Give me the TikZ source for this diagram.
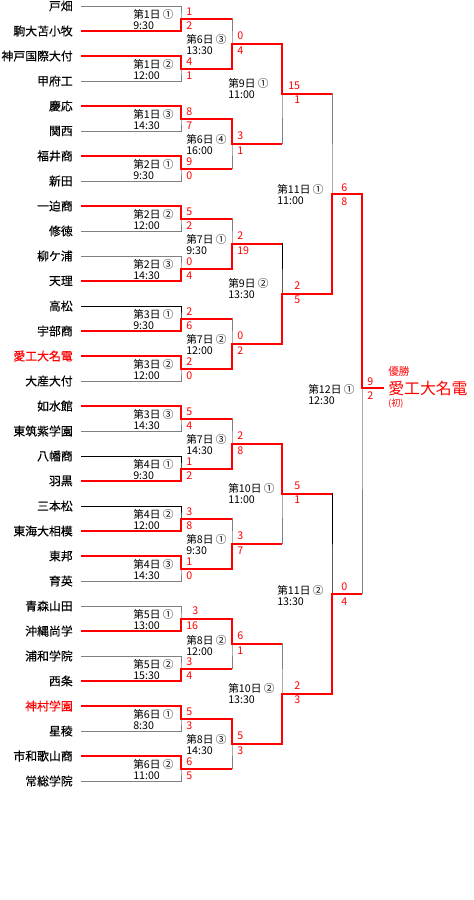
\documentclass[tikz,border=0pt]{standalone}
\usepackage{fontspec}
\setmainfont{Noto Sans CJK JP}
\newfontfamily\teamfont{Noto Sans CJK JP}[FakeBold=0.35]
\usepackage{xcolor}

\definecolor{wonred}{HTML}{FF0000}
\definecolor{lostgray}{HTML}{808080}

\tikzset{
    team/.style={anchor=east, inner sep=0pt, font=\teamfont\fontsize{8.9}{10}\selectfont},
    match/.style={anchor=west, inner sep=0pt, align=left, font=\fontsize{8}{8.3}\selectfont},
    score/.style={anchor=west, inner sep=0pt, text=wonred, font=\fontsize{8}{9}\selectfont},
    lost/.style={draw=lostgray, line width=0.75pt},
    lostdark/.style={draw=black, line width=0.75pt},
    won/.style={draw=wonred, line width=1.5pt}
}

\begin{document}
\begin{tikzpicture}[x=0.75pt, y=-0.75pt]
        \useasboundingbox (0,0) rectangle (474,900);

        % Define points for team lines
        \coordinate (t1) at (81, 6);
        \coordinate (t2) at (81, 31);
        \coordinate (t3) at (81, 56);
        \coordinate (t4) at (81, 81);
        \coordinate (t5) at (81, 106);
        \coordinate (t6) at (81, 131);
        \coordinate (t7) at (81, 156);
        \coordinate (t8) at (81, 181);
        \coordinate (t9) at (81, 206);
        \coordinate (t10) at (81, 231);
        \coordinate (t11) at (81, 256);
        \coordinate (t12) at (81, 281);
        \coordinate (t13) at (81, 306);
        \coordinate (t14) at (81, 331);
        \coordinate (t15) at (81, 356);
        \coordinate (t16) at (81, 381);
        \coordinate (t17) at (81, 406);
        \coordinate (t18) at (81, 431);
        \coordinate (t19) at (81, 456);
        \coordinate (t20) at (81, 481);
        \coordinate (t21) at (81, 506);
        \coordinate (t22) at (81, 531);
        \coordinate (t23) at (81, 556);
        \coordinate (t24) at (81, 581);
        \coordinate (t25) at (81, 606);
        \coordinate (t26) at (81, 631);
        \coordinate (t27) at (81, 656);
        \coordinate (t28) at (81, 681);
        \coordinate (t29) at (81, 706);
        \coordinate (t30) at (81, 731);
        \coordinate (t31) at (81, 756);
        \coordinate (t32) at (81, 781);

        % Define points where the first round meets
        \coordinate (a1) at (181, 18.5);
        \coordinate (a2) at (181, 68.5);
        \coordinate (a3) at (181, 118.5);
        \coordinate (a4) at (181, 168.5);
        \coordinate (a5) at (181, 218.5);
        \coordinate (a6) at (181, 268.5);
        \coordinate (a7) at (181, 318.5);
        \coordinate (a8) at (181, 368.5);
        \coordinate (a9) at (181, 418.5);
        \coordinate (a10) at (181, 468.5);
        \coordinate (a11) at (181, 518.5);
        \coordinate (a12) at (181, 568.5);
        \coordinate (a13) at (181, 618.5);
        \coordinate (a14) at (181, 668.5);
        \coordinate (a15) at (181, 718.5);
        \coordinate (a16) at (181, 768.5);

        % Define points for later rounds
        \coordinate (b1) at (232, 43.5);
        \coordinate (b2) at (232, 143.5);
        \coordinate (b3) at (232, 243.5);
        \coordinate (b4) at (232, 343.5);
        \coordinate (b5) at (232, 443.5);
        \coordinate (b6) at (232, 543.5);
        \coordinate (b7) at (232, 643.5);
        \coordinate (b8) at (232, 743.5);
        \coordinate (c1) at (282, 93.5);
        \coordinate (c2) at (282, 293.5);
        \coordinate (c3) at (282, 493.5);
        \coordinate (c4) at (282, 693.5);
        \coordinate (d1) at (332, 193.5);
        \coordinate (d2) at (332, 593.5);
        \coordinate (f) at (362, 388);
        \coordinate (w) at (384, 388);

        % Draw bracket lines
        \draw[lost] (t1) -| (a1) |- (t2);
        \draw[lost] (t3) -| (a2) |- (t4);
        \draw[lost] (t5) -| (a3) |- (t6);
        \draw[lost] (t7) -| (a4) |- (t8);
        \draw[lost] (t9) -| (a5) |- (t10);
        \draw[lost] (t11) -| (a6) |- (t12);
        \draw[lostdark] (t13) -| (a7) |- (t14);
        \draw[lost] (t15) -| (a8) |- (t16);
        \draw[lost] (t17) -| (a9) |- (t18);
        \draw[lostdark] (t19) -| (a10) |- (t20);
        \draw[lostdark] (t21) -| (a11) |- (t22);
        \draw[lost] (t23) -| (a12) |- (t24);
        \draw[lost] (t25) -| (a13) |- (t26);
        \draw[lost] (t27) -| (a14) |- (t28);
        \draw[lost] (t29) -| (a15) |- (t30);
        \draw[lost] (t31) -| (a16) |- (t32);
        \draw[lost] (a1) -| (b1) |- (a2);
        \draw[lost] (a3) -| (b2) |- (a4);
        \draw[lost] (a5) -| (b3) |- (a6);
        \draw[lost] (a7) -| (b4) |- (a8);
        \draw[lost] (a9) -| (b5) |- (a10);
        \draw[lost] (a11) -| (b6) |- (a12);
        \draw[lost] (a13) -| (b7) |- (a14);
        \draw[lost] (a15) -| (b8) |- (a16);
        \draw[lost] (b1) -| (c1) |- (b2);
        \draw[lostdark] (b3) -| (c2) |- (b4);
        \draw[lost] (b5) -| (c3) |- (b6);
        \draw[lost] (b7) -| (c4) |- (b8);
        \draw[lost] (c1) -| (d1) |- (c2);
        \draw[lostdark] (c3) -| (d2) |- (c4);
        \draw[lost] (d1) -| (f) |- (d2);

        % Draw winning paths
        \draw[won] (t2) -| (a1) -- (b1 |- a1);
        \draw[won] (t3) -| (a2) -| (b1) -| (c1) -- (d1 |- c1);
        \draw[won] (t5) -| (a3) -| (b2) -- (c1 |- b2);
        \draw[won] (t7) -| (a4) -- (b2 |- a4);
        \draw[won] (t9) -| (a5) -- (b3 |- a5);
        \draw[won] (t12) -| (a6) -| (b3) -- (c2 |- b3);
        \draw[won] (t14) -| (a7) -- (b4 |- a7);
        \draw[won] (t15) -| (a8) -| (b4) -| (c2) -| (d1) -| (f) -- (w);
        \draw[won] (t17) -| (a9) -- (b5 |- a9);
        \draw[won] (t20) -| (a10) -| (b5) -| (c3) -- (d2 |- c3);
        \draw[won] (t22) -| (a11) -- (b6 |- a11);
        \draw[won] (t23) -| (a12) -| (b6) -- (c3 |- b6);
        \draw[won] (t26) -| (a13) -| (b7) -- (c4 |- b7);
        \draw[won] (t28) -| (a14) -- (b7 |- a14);
        \draw[won] (t29) -| (a15) -| (b8) -| (c4) -| (d2) -- (f |- d2);
        \draw[won] (t31) -| (a16) -- (b8 |- a16);

        % Team names
        \node[team] (n1) at (73, 6) {戸畑};
        \node[team] (n2) at (73, 31) {駒大苫小牧};
        \node[team] (n3) at (73, 56) {神戸国際大付};
        \node[team] (n4) at (73, 81) {甲府工};
        \node[team] (n5) at (73, 106) {慶応};
        \node[team] (n6) at (73, 131) {関西};
        \node[team] (n7) at (73, 156) {福井商};
        \node[team] (n8) at (73, 181) {新田};
        \node[team] (n9) at (73, 206) {一迫商};
        \node[team] (n10) at (73, 231) {修徳};
        \node[team] (n11) at (73, 256) {柳ケ浦};
        \node[team] (n12) at (73, 281) {天理};
        \node[team] (n13) at (73, 306) {高松};
        \node[team] (n14) at (73, 331) {宇部商};
        \node[team, text=wonred] (n15) at (73, 356) {愛工大名電};
        \node[team] (n16) at (73, 381) {大産大付};
        \node[team] (n17) at (73, 406) {如水館};
        \node[team] (n18) at (73, 431) {東筑紫学園};
        \node[team] (n19) at (73, 456) {八幡商};
        \node[team] (n20) at (73, 481) {羽黒};
        \node[team] (n21) at (73, 506) {三本松};
        \node[team] (n22) at (73, 531) {東海大相模};
        \node[team] (n23) at (73, 556) {東邦};
        \node[team] (n24) at (73, 581) {育英};
        \node[team] (n25) at (73, 606) {青森山田};
        \node[team] (n26) at (73, 631) {沖縄尚学};
        \node[team] (n27) at (73, 656) {浦和学院};
        \node[team] (n28) at (73, 681) {西条};
        \node[team, text=wonred] (n29) at (73, 706) {神村学園};
        \node[team] (n30) at (73, 731) {星稜};
        \node[team] (n31) at (73, 756) {市和歌山商};
        \node[team] (n32) at (73, 781) {常総学院};

        % Match days and times
        \node[match] (g1) at (133, 19.5) {第1日 ①\\9:30};
        \node[match] (g2) at (133, 69.5) {第1日 ②\\12:00};
        \node[match] (g3) at (133, 119.5) {第1日 ③\\14:30};
        \node[match] (g4) at (133, 169.5) {第2日 ①\\9:30};
        \node[match] (g5) at (133, 219.5) {第2日 ②\\12:00};
        \node[match] (g6) at (133, 269.5) {第2日 ③\\14:30};
        \node[match] (g7) at (133, 319.5) {第3日 ①\\9:30};
        \node[match] (g8) at (133, 369.5) {第3日 ②\\12:00};
        \node[match] (g9) at (133, 419.5) {第3日 ③\\14:30};
        \node[match] (g10) at (133, 469.5) {第4日 ①\\9:30};
        \node[match] (g11) at (133, 519.5) {第4日 ②\\12:00};
        \node[match] (g12) at (133, 569.5) {第4日 ③\\14:30};
        \node[match] (g13) at (133, 619.5) {第5日 ①\\13:00};
        \node[match] (g14) at (133, 669.5) {第5日 ②\\15:30};
        \node[match] (g15) at (133, 719.5) {第6日 ①\\8:30};
        \node[match] (g16) at (133, 769.5) {第6日 ②\\11:00};
        \node[match] (h1) at (186, 44.5) {第6日 ③\\13:30};
        \node[match] (h2) at (186, 144.5) {第6日 ④\\16:00};
        \node[match] (h3) at (186, 244.5) {第7日 ①\\9:30};
        \node[match] (h4) at (186, 344.5) {第7日 ②\\12:00};
        \node[match] (h5) at (186, 444.5) {第7日 ③\\14:30};
        \node[match] (h6) at (186, 544.5) {第8日 ①\\9:30};
        \node[match] (h7) at (186, 645.5) {第8日 ②\\12:00};
        \node[match] (h8) at (186, 744.5) {第8日 ③\\14:30};
        \node[match] (i1) at (228, 89) {第9日 ①\\11:00};
        \node[match] (i2) at (228, 289) {第9日 ②\\13:30};
        \node[match] (i3) at (228, 494) {第10日 ①\\11:00};
        \node[match] (i4) at (228, 694) {第10日 ②\\13:30};
        \node[match] (j1) at (277, 195) {第11日 ①\\11:00};
        \node[match] (j2) at (277, 596) {第11日 ②\\13:30};
        \node[match] (k1) at (308, 395) {第12日 ①\\12:30};

        % Scores of the first round
        \node[score] (sa1t) at (186, 11.5) {1};
        \node[score] (sa1b) at (186, 25.5) {2};
        \node[score] (sa2t) at (186, 61.5) {4};
        \node[score] (sa2b) at (186, 75.5) {1};
        \node[score] (sa3t) at (186, 111.5) {8};
        \node[score] (sa3b) at (186, 125.5) {7};
        \node[score] (sa4t) at (186, 161.5) {9};
        \node[score] (sa4b) at (186, 175.5) {0};
        \node[score] (sa5t) at (186, 211.5) {5};
        \node[score] (sa5b) at (186, 225.5) {2};
        \node[score] (sa6t) at (186, 261.5) {0};
        \node[score] (sa6b) at (186, 275.5) {4};
        \node[score] (sa7t) at (186, 311.5) {2};
        \node[score] (sa7b) at (186, 325.5) {6};
        \node[score] (sa8t) at (186, 361.5) {2};
        \node[score] (sa8b) at (186, 375.5) {0};
        \node[score] (sa9t) at (186, 411.5) {5};
        \node[score] (sa9b) at (186, 425.5) {4};
        \node[score] (sa10t) at (186, 461.5) {1};
        \node[score] (sa10b) at (186, 475.5) {2};
        \node[score] (sa11t) at (186, 511.5) {3};
        \node[score] (sa11b) at (186, 525.5) {8};
        \node[score] (sa12t) at (186, 561.5) {1};
        \node[score] (sa12b) at (186, 575.5) {0};
        \node[score] (sa13t) at (192, 610.5) {3};
        \node[score] (sa13b) at (186, 625.5) {16};
        \node[score] (sa14t) at (186, 661.5) {3};
        \node[score] (sa14b) at (186, 675.5) {4};
        \node[score] (sa15t) at (186, 711.5) {5};
        \node[score] (sa15b) at (186, 725.5) {3};
        \node[score] (sa16t) at (186, 761.5) {6};
        \node[score] (sa16b) at (186, 775.5) {5};

        % Scores of the later rounds
        \node[score] (sb1t) at (237, 35.5) {0};
        \node[score] (sb1b) at (237, 50.5) {4};
        \node[score] (sb2t) at (237, 135.5) {3};
        \node[score] (sb2b) at (237, 150.5) {1};
        \node[score] (sb3t) at (237, 235.5) {2};
        \node[score] (sb3b) at (237, 250.5) {19};
        \node[score] (sb4t) at (237, 335.5) {0};
        \node[score] (sb4b) at (237, 350.5) {2};
        \node[score] (sb5t) at (237, 435.5) {2};
        \node[score] (sb5b) at (237, 450.5) {8};
        \node[score] (sb6t) at (237, 535.5) {3};
        \node[score] (sb6b) at (237, 550.5) {7};
        \node[score] (sb7t) at (237, 635.5) {6};
        \node[score] (sb7b) at (237, 650.5) {1};
        \node[score] (sb8t) at (237, 735.5) {5};
        \node[score] (sb8b) at (237, 750.5) {3};
        \node[score] (sc1t) at (288, 86) {15};
        \node[score] (sc1b) at (294, 100) {1};
        \node[score] (sc2t) at (294, 286) {2};
        \node[score] (sc2b) at (294, 300) {5};
        \node[score] (sc3t) at (294, 486) {5};
        \node[score] (sc3b) at (294, 500) {1};
        \node[score] (sc4t) at (294, 686) {2};
        \node[score] (sc4b) at (294, 700) {3};
        \node[score] (sd1t) at (341, 187.5) {6};
        \node[score] (sd1b) at (341, 201.5) {8};
        \node[score] (sd2t) at (341, 587) {0};
        \node[score] (sd2b) at (341, 602) {4};
        \node[score] (sft) at (367, 381.5) {9};
        \node[score] (sfb) at (367, 396) {2};

        % Champion
        \node[score] (title) at (388, 371.5) {優勝};
        \node[score, font=\fontsize{11.9}{13}\selectfont] (champ) at (388, 388) {愛工大名電};
        \node[score, font=\fontsize{6.8}{8}\selectfont] (first) at (388, 403.5) {(初)};
    \end{tikzpicture}
\end{document}
